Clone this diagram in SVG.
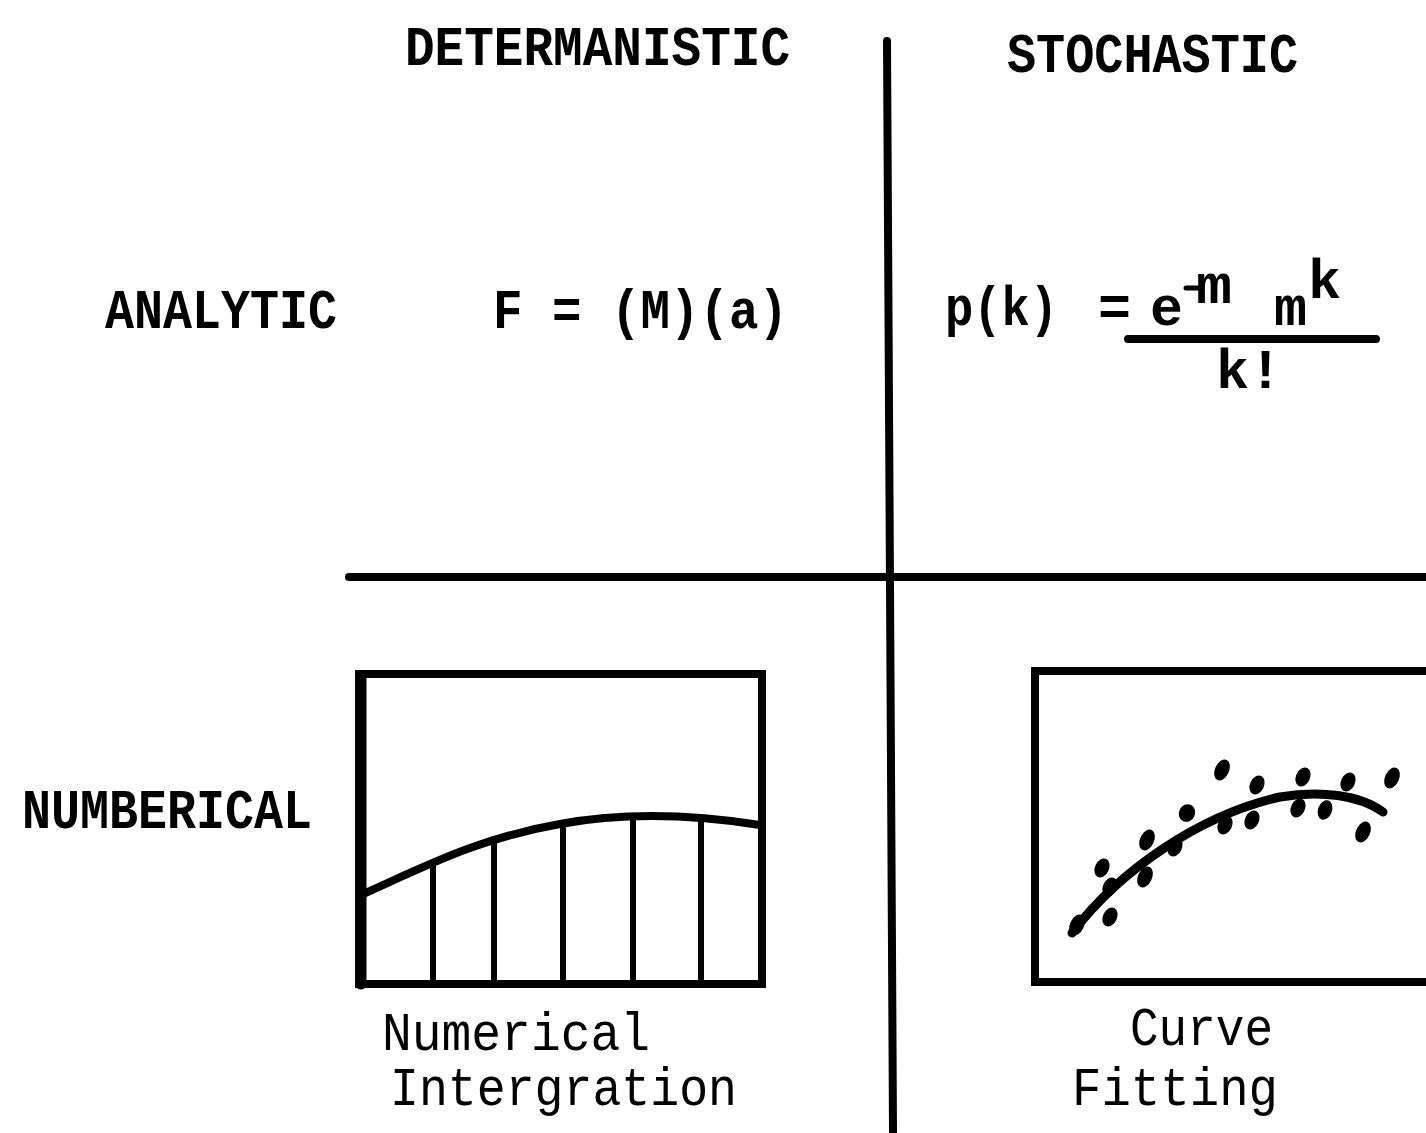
<svg xmlns="http://www.w3.org/2000/svg" width="1426" height="1133" viewBox="0 0 1426 1133">
<style>
.h{font-family:"Liberation Mono","Courier New",monospace;font-weight:bold;font-size:55px;fill:#000}
.t{font-family:"Liberation Mono","Courier New",monospace;font-weight:normal;font-size:53px;fill:#000}
.ln{stroke:#000;fill:none;stroke-linecap:round}
.dot{fill:#000}
</style>
<rect width="1426" height="1133" fill="#fff"/>
<g id="grid">
<path class="ln" d="M887,41 L893,1133" stroke-width="8"/>
<path class="ln" d="M349,577 L1426,577" stroke-width="8"/>
</g>
<g id="headers">
<text class="h" x="405" y="65" textLength="385" lengthAdjust="spacingAndGlyphs">DETERMANISTIC</text>
<text class="h" x="1007" y="72" textLength="291" lengthAdjust="spacingAndGlyphs">STOCHASTIC</text>
<text class="h" x="105" y="328" textLength="232" lengthAdjust="spacingAndGlyphs">ANALYTIC</text>
<text class="h" x="22" y="828" textLength="290" lengthAdjust="spacingAndGlyphs">NUMBERICAL</text>
</g>
<g id="newton">
<text class="h" x="493" y="328" textLength="295" lengthAdjust="spacingAndGlyphs">F = (M)(a)</text>
</g>
<g id="poisson">
<text class="h" x="945" y="325" textLength="113" lengthAdjust="spacingAndGlyphs">p(k)</text>
<text class="h" x="1098" y="325">=</text>
<text class="h" x="1150" y="325">e</text>
<text class="h" x="1196" y="303" textLength="36" lengthAdjust="spacingAndGlyphs">m</text>
<path class="ln" d="M1186,288 L1199,288" stroke-width="5"/>
<text class="h" x="1274" y="325">m</text>
<text class="h" x="1308" y="298">k</text>
<path class="ln" d="M1128,339 L1376,339" stroke-width="8"/>
<text class="h" x="1216" y="388">k!</text>
</g>
<g id="numerical-integration">
<rect x="359" y="674" width="403" height="310" fill="none" stroke="#000" stroke-width="8"/>
<path class="ln" d="M361,678 L361,984" stroke-width="11"/>
<path class="ln" d="M363,894 C430,864 480,838 560,824 C620,813 690,814 760,825" stroke-width="8"/>
<g stroke="#000" stroke-width="6">
<line x1="433" y1="866" x2="433" y2="984"/>
<line x1="494" y1="840" x2="494" y2="984"/>
<line x1="563" y1="824" x2="563" y2="984"/>
<line x1="633" y1="816" x2="633" y2="984"/>
<line x1="701" y1="818" x2="701" y2="984"/>
</g>
<text class="t" x="382" y="1050" textLength="268" lengthAdjust="spacingAndGlyphs">Numerical</text>
<text class="t" x="390" y="1105" textLength="347" lengthAdjust="spacingAndGlyphs">Intergration</text>
</g>
<g id="curve-fitting">
<rect x="1035" y="671" width="420" height="311" fill="none" stroke="#000" stroke-width="8"/>
<path class="ln" d="M1072,933 C1120,870 1200,815 1280,797 C1320,790 1360,795 1383,812" stroke-width="9"/>
<g class="dot">
<ellipse cx="1222" cy="770" rx="7" ry="11" transform="rotate(25 1222 770)"/>
<ellipse cx="1257" cy="785" rx="7" ry="10" transform="rotate(25 1257 785)"/>
<ellipse cx="1303" cy="777" rx="7" ry="10" transform="rotate(25 1303 777)"/>
<ellipse cx="1348" cy="782" rx="7" ry="10" transform="rotate(25 1348 782)"/>
<ellipse cx="1392" cy="778" rx="7" ry="11" transform="rotate(25 1392 778)"/>
<ellipse cx="1187" cy="813" rx="8" ry="9" transform="rotate(25 1187 813)"/>
<ellipse cx="1225" cy="825" rx="7" ry="10" transform="rotate(25 1225 825)"/>
<ellipse cx="1252" cy="820" rx="7" ry="10" transform="rotate(25 1252 820)"/>
<ellipse cx="1298" cy="808" rx="7" ry="10" transform="rotate(25 1298 808)"/>
<ellipse cx="1325" cy="810" rx="7" ry="10" transform="rotate(20 1325 810)"/>
<ellipse cx="1363" cy="832" rx="7" ry="11" transform="rotate(25 1363 832)"/>
<ellipse cx="1147" cy="840" rx="7" ry="11" transform="rotate(25 1147 840)"/>
<ellipse cx="1175" cy="847" rx="7" ry="10" transform="rotate(25 1175 847)"/>
<ellipse cx="1145" cy="877" rx="7" ry="11" transform="rotate(25 1145 877)"/>
<ellipse cx="1102" cy="868" rx="7" ry="10" transform="rotate(25 1102 868)"/>
<ellipse cx="1110" cy="887" rx="7" ry="10" transform="rotate(25 1110 887)"/>
<ellipse cx="1110" cy="917" rx="7" ry="10" transform="rotate(25 1110 917)"/>
<ellipse cx="1077" cy="925" rx="7" ry="11" transform="rotate(25 1077 925)"/>
</g>
<text class="t" x="1130" y="1045" textLength="143" lengthAdjust="spacingAndGlyphs">Curve</text>
<text class="t" x="1072" y="1105" textLength="206" lengthAdjust="spacingAndGlyphs">Fitting</text>
</g>
</svg>
